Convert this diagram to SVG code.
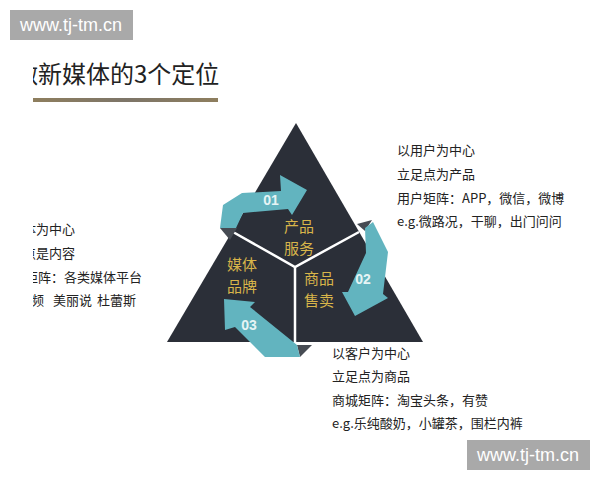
<svg xmlns="http://www.w3.org/2000/svg" width="600" height="480" viewBox="0 0 600 480">
<defs>
<style>
.wm{fill:#a9a9a9}
.wmt{font-family:"Liberation Sans",Arial,sans-serif;font-size:18px;fill:#ffffff}
.cjk{font-family:"Noto Sans CJK SC","Noto Sans",sans-serif}
.body{font-size:13px;fill:#222222}
.gold{font-size:15px;fill:#d8b54a;text-anchor:middle}
.num{font-family:"Liberation Sans",Arial,sans-serif;font-size:14px;font-weight:bold;fill:#e6f4f5;text-anchor:middle}
.arrow{fill:#62b4bf}
.fold{fill:#464b53}
.div{stroke:#ffffff;stroke-width:2.5;fill:none}
</style>
<clipPath id="clipL"><rect x="33" y="0" width="567" height="480"/></clipPath>
<clipPath id="clipR"><rect x="0" y="0" width="565" height="480"/></clipPath>
<linearGradient id="ul" x1="0" y1="0" x2="1" y2="0">
<stop offset="0" stop-color="#8e7e5e"/>
<stop offset="0.5" stop-color="#7d7568"/>
<stop offset="1" stop-color="#8e7e5e"/>
</linearGradient>
</defs>
<rect width="600" height="480" fill="#ffffff"/>

<g id="watermark-top">
<rect class="wm" x="10" y="10" width="123" height="30"/>
<text class="wmt" x="20" y="31">www.tj-tm.cn</text>
</g>
<g id="watermark-bottom">
<rect class="wm" x="467" y="440" width="123" height="30"/>
<text class="wmt" x="477" y="461">www.tj-tm.cn</text>
</g>

<g id="title" clip-path="url(#clipL)">
<text class="cjk" x="14" y="83" font-size="24" fill="#222222">做新媒体的3个定位</text>
<rect x="33" y="98" width="185" height="4" fill="url(#ul)"/>
</g>

<g id="triangle">
<polygon points="296,123 167,342 423,342" fill="#2b2f38"/>
<polyline class="div" points="233,232 295,267 359,232"/>
<line class="div" x1="295" y1="267" x2="295" y2="342"/>
</g>

<g id="connectors">
<polygon class="fold" points="220,228 237,228 230,240"/>
<polygon class="arrow" points="220,228 223,205 242,193 281,191 280,175 307,190 292,215 288,209 243,213 236,228"/>
<polygon class="fold" points="357,224 372,220 365,231"/>
<polygon class="arrow" points="365,228 373,222 388,252 383,294 388,298 355,316 342,292 348,292 366,253"/>
<polygon class="fold" points="297,345 312,345 300,357"/>
<polygon class="arrow" points="224,299 255,302 250,307 297,345 300,357 265,357 235,327 225,330"/>
<text class="num" x="271" y="205">01</text>
<text class="num" x="363" y="284">02</text>
<text class="num" x="249" y="330">03</text>
</g>

<g id="node-product" class="cjk">
<text class="gold" x="299" y="232">产品</text>
<text class="gold" x="299" y="254">服务</text>
</g>
<g id="node-goods" class="cjk">
<text class="gold" x="319" y="284">商品</text>
<text class="gold" x="319" y="306">售卖</text>
</g>
<g id="node-media" class="cjk">
<text class="gold" x="242" y="270">媒体</text>
<text class="gold" x="242" y="292">品牌</text>
</g>

<g id="text-right" class="cjk body" clip-path="url(#clipR)">
<text x="397" y="155">以用户为中心</text>
<text x="397" y="179">立足点为产品</text>
<text x="397" y="203">用户矩阵：APP，微信，微博</text>
<text x="397" y="226">e.g.微路况，干聊，出门问问</text>
</g>

<g id="text-bottom" class="cjk body">
<text x="332" y="358">以客户为中心</text>
<text x="332" y="381">立足点为商品</text>
<text x="332" y="405">商城矩阵：淘宝头条，有赞</text>
<text x="332" y="428">e.g.乐纯酸奶，小罐茶，围栏内裤</text>
</g>

<g id="text-left" class="cjk body" clip-path="url(#clipL)">
<text x="23" y="234">体为中心</text>
<text x="23" y="258">点是内容</text>
<text x="25" y="282">矩阵：各类媒体平台</text>
<text x="31" y="305">频</text>
<text x="53" y="305">美丽说</text>
<text x="97" y="305">杜蕾斯</text>
</g>
</svg>
